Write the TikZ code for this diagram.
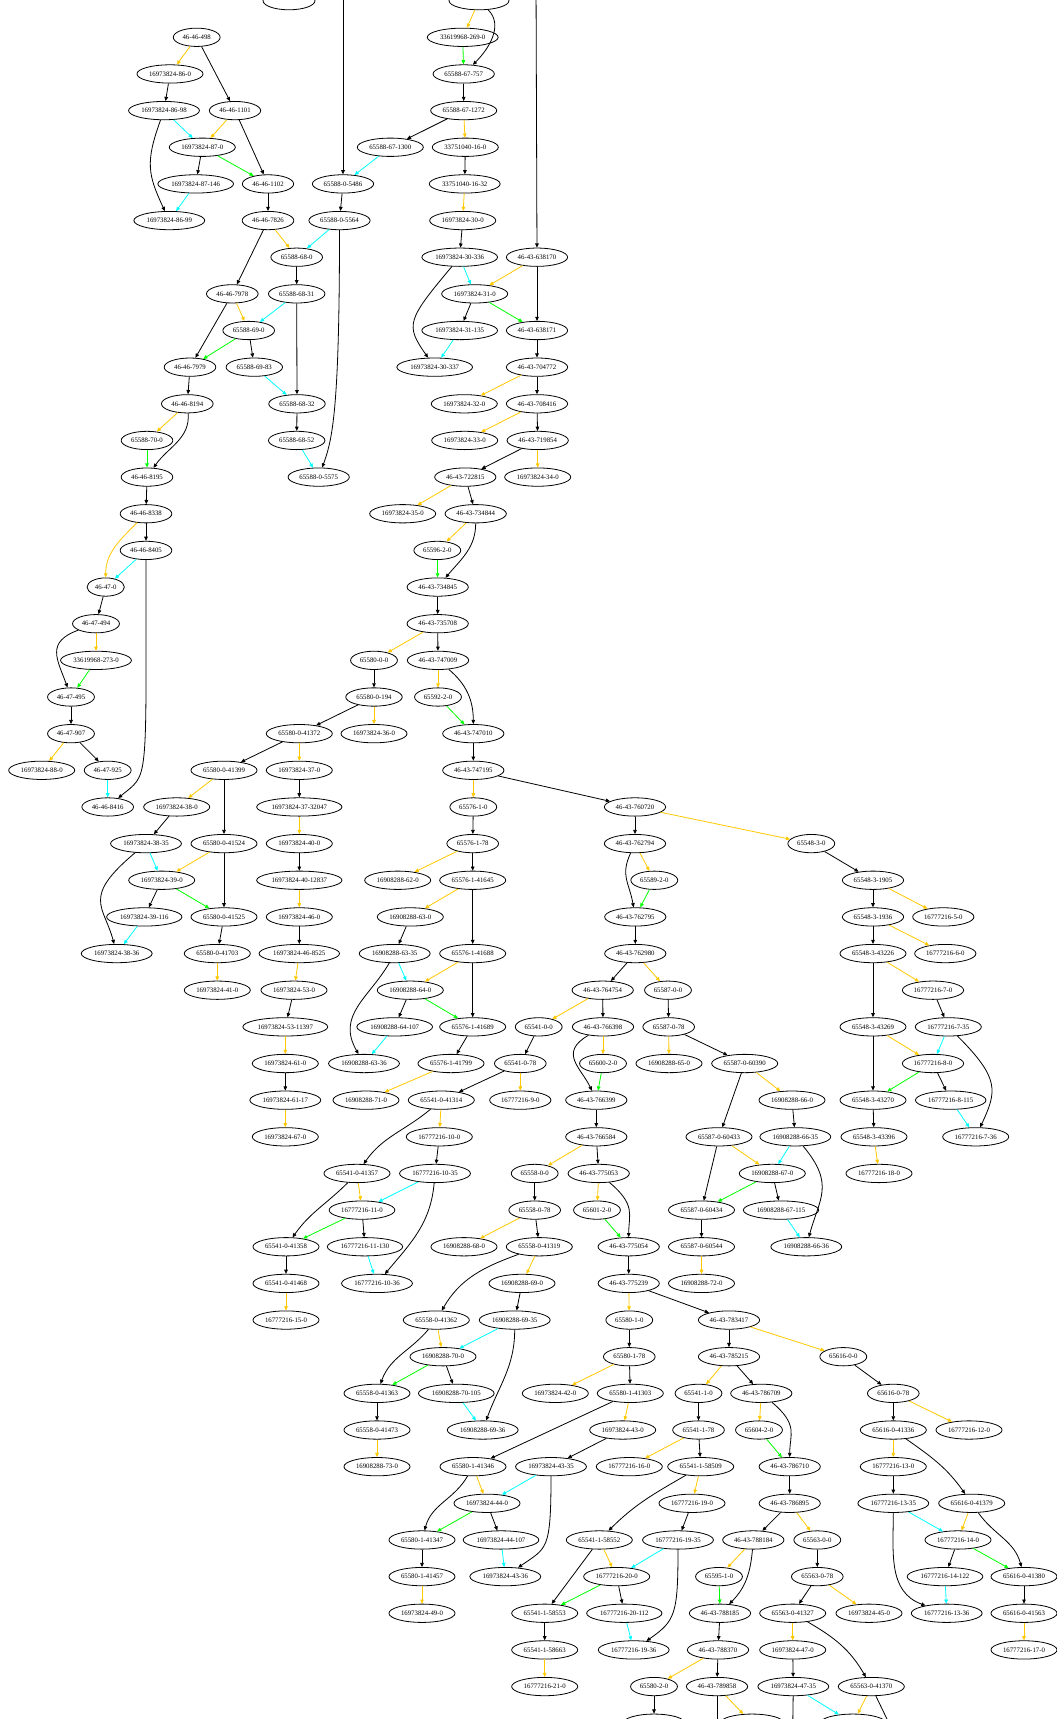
\documentclass[tikz,border=0pt]{standalone}
\usepackage{fontspec}
\setmainfont{Liberation Serif}
\usetikzlibrary{arrows.meta,shapes.geometric}
\definecolor{depGold}{HTML}{FFC800}
\definecolor{depCyan}{HTML}{00FFFF}
\definecolor{depGreen}{HTML}{00FF00}
\tikzset{
  elip/.style={draw=black, line width=0.8pt, ellipse, inner xsep=2.4pt, inner ysep=0pt, minimum height=18.3pt, font=\fontsize{6.8}{8}\selectfont},
  elipcut/.style={elip, minimum width=#1},
  dep/.style={-{Triangle[length=4.2pt,width=3.6pt]}, line width=0.8pt, draw=#1},
  dep/.default=black,
}

\begin{document}
\begin{tikzpicture}[x=1pt, y=-36.65pt]
\useasboundingbox (0pt,0.65pt) rectangle (1057pt,-1718.35pt);
\node[elipcut=52pt] (cutTopL) at (289,0) {};
\node[elipcut=60pt] (cutTopR) at (479,0) {};
\coordinate (offTopA) at (343,-0.6);
\coordinate (offTopB) at (536,-0.6);
\node[elip] (46-46-498) at (196.7,1) {46-46-498};
\node[elip] (33619968-269-0) at (462.7,1) {33619968-269-0};
\node[elip] (16973824-86-0) at (170,2) {16973824-86-0};
\node[elip] (65588-67-757) at (463.7,2) {65588-67-757};
\node[elip] (16973824-86-98) at (164,3) {16973824-86-98};
\node[elip] (46-46-1101) at (235,3) {46-46-1101};
\node[elip] (65588-67-1272) at (463.7,3) {65588-67-1272};
\node[elip] (16973824-87-0) at (202.3,4) {16973824-87-0};
\node[elip] (65588-67-1300) at (390.3,4) {65588-67-1300};
\node[elip] (33751040-16-0) at (465.3,4) {33751040-16-0};
\node[elip] (16973824-87-146) at (195.7,5) {16973824-87-146};
\node[elip] (46-46-1102) at (268,5) {46-46-1102};
\node[elip] (65588-0-5486) at (343,5) {65588-0-5486};
\node[elip] (33751040-16-32) at (464.7,5) {33751040-16-32};
\node[elip] (16973824-86-99) at (169.3,6) {16973824-86-99};
\node[elip] (46-46-7826) at (268,6) {46-46-7826};
\node[elip] (65588-0-5564) at (339.5,6) {65588-0-5564};
\node[elip] (16973824-30-0) at (462.7,6) {16973824-30-0};
\node[elip] (65588-68-0) at (296.7,7) {65588-68-0};
\node[elip] (16973824-30-336) at (459.7,7) {16973824-30-336};
\node[elip] (46-43-638170) at (537,7) {46-43-638170};
\node[elip] (46-46-7978) at (232.3,8) {46-46-7978};
\node[elip] (65588-68-31) at (296.7,8) {65588-68-31};
\node[elip] (16973824-31-0) at (474.7,8) {16973824-31-0};
\node[elip] (65588-69-0) at (248.7,9) {65588-69-0};
\node[elip] (16973824-31-135) at (459.7,9) {16973824-31-135};
\node[elip] (46-43-638171) at (537,9) {46-43-638171};
\node[elip] (46-46-7979) at (190,10) {46-46-7979};
\node[elip] (65588-69-83) at (254.3,10) {65588-69-83};
\node[elip] (16973824-30-337) at (434.7,10) {16973824-30-337};
\node[elip] (46-43-704772) at (537,10) {46-43-704772};
\node[elip] (46-46-8194) at (187.3,11) {46-46-8194};
\node[elip] (65588-68-32) at (297,11) {65588-68-32};
\node[elip] (16973824-32-0) at (464.3,11) {16973824-32-0};
\node[elip] (46-43-708416) at (537,11) {46-43-708416};
\node[elip] (65588-70-0) at (147,12) {65588-70-0};
\node[elip] (65588-68-52) at (296.7,12) {65588-68-52};
\node[elip] (16973824-33-0) at (464.7,12) {16973824-33-0};
\node[elip] (46-43-719854) at (537.7,12) {46-43-719854};
\node[elip] (46-46-8195) at (147,13) {46-46-8195};
\node[elip] (65588-0-5575) at (318.7,13) {65588-0-5575};
\node[elip] (46-43-722815) at (465.3,13) {46-43-722815};
\node[elip] (16973824-34-0) at (537.7,13) {16973824-34-0};
\node[elip] (46-46-8338) at (146,14) {46-46-8338};
\node[elip] (16973824-35-0) at (402.7,14) {16973824-35-0};
\node[elip] (46-43-734844) at (475.7,14) {46-43-734844};
\node[elip] (46-46-8405) at (146,15) {46-46-8405};
\node[elip] (65596-2-0) at (437.3,15) {65596-2-0};
\node[elip] (46-47-0) at (105.7,16) {46-47-0};
\node[elip] (46-43-734845) at (437.7,16) {46-43-734845};
\node[elip] (46-47-494) at (96,17) {46-47-494};
\node[elip] (46-43-735708) at (437.7,17) {46-43-735708};
\node[elip] (33619968-273-0) at (96,18) {33619968-273-0};
\node[elip] (65580-0-0) at (374,18) {65580-0-0};
\node[elip] (46-43-747009) at (438,18) {46-43-747009};
\node[elip] (46-47-495) at (71,19) {46-47-495};
\node[elip] (65580-0-194) at (374,19) {65580-0-194};
\node[elip] (65592-2-0) at (438,19) {65592-2-0};
\node[elip] (46-47-907) at (71,20) {46-47-907};
\node[elip] (65580-0-41372) at (299.3,20) {65580-0-41372};
\node[elip] (16973824-36-0) at (374,20) {16973824-36-0};
\node[elip] (46-43-747010) at (473.3,20) {46-43-747010};
\node[elip] (16973824-88-0) at (41.7,21) {16973824-88-0};
\node[elip] (46-47-925) at (107.7,21) {46-47-925};
\node[elip] (65580-0-41399) at (224,21) {65580-0-41399};
\node[elip] (16973824-37-0) at (299.3,21) {16973824-37-0};
\node[elip] (46-43-747195) at (473.3,21) {46-43-747195};
\node[elip] (46-46-8416) at (107.7,22) {46-46-8416};
\node[elip] (16973824-38-0) at (176.7,22) {16973824-38-0};
\node[elip] (16973824-37-32047) at (299.3,22) {16973824-37-32047};
\node[elip] (65576-1-0) at (473.3,22) {65576-1-0};
\node[elip] (46-43-760720) at (635,22) {46-43-760720};
\node[elip] (16973824-38-35) at (146,23) {16973824-38-35};
\node[elip] (65580-0-41524) at (224,23) {65580-0-41524};
\node[elip] (16973824-40-0) at (299.3,23) {16973824-40-0};
\node[elip] (65576-1-78) at (472.7,23) {65576-1-78};
\node[elip] (46-43-762794) at (635,23) {46-43-762794};
\node[elip] (65548-3-0) at (811.3,23) {65548-3-0};
\node[elip] (16973824-39-0) at (161.7,24) {16973824-39-0};
\node[elip] (16973824-40-12837) at (299.3,24) {16973824-40-12837};
\node[elip] (16908288-62-0) at (397.7,24) {16908288-62-0};
\node[elip] (65576-1-41645) at (472.7,24) {65576-1-41645};
\node[elip] (65589-2-0) at (654.3,24) {65589-2-0};
\node[elip] (65548-3-1905) at (873,24) {65548-3-1905};
\node[elip] (16973824-39-116) at (144.3,25) {16973824-39-116};
\node[elip] (65580-0-41525) at (224,25) {65580-0-41525};
\node[elip] (16973824-46-0) at (299.3,25) {16973824-46-0};
\node[elip] (16908288-63-0) at (410.3,25) {16908288-63-0};
\node[elip] (46-43-762795) at (635.3,25) {46-43-762795};
\node[elip] (65548-3-1936) at (873,25) {65548-3-1936};
\node[elip] (16777216-5-0) at (943.3,25) {16777216-5-0};
\node[elip] (16973824-38-36) at (116.7,26) {16973824-38-36};
\node[elip] (65580-0-41703) at (217.3,26) {65580-0-41703};
\node[elip] (16973824-46-8525) at (299.3,26) {16973824-46-8525};
\node[elip] (16908288-63-35) at (394.7,26) {16908288-63-35};
\node[elip] (65576-1-41688) at (472.7,26) {65576-1-41688};
\node[elip] (46-43-762980) at (635.3,26) {46-43-762980};
\node[elip] (65548-3-43226) at (873,26) {65548-3-43226};
\node[elip] (16777216-6-0) at (945.3,26) {16777216-6-0};
\node[elip] (16973824-41-0) at (217.3,27) {16973824-41-0};
\node[elip] (16973824-53-0) at (294,27) {16973824-53-0};
\node[elip] (16908288-64-0) at (410.3,27) {16908288-64-0};
\node[elip] (46-43-764754) at (602.7,27) {46-43-764754};
\node[elip] (65587-0-0) at (668,27) {65587-0-0};
\node[elip] (16777216-7-0) at (933,27) {16777216-7-0};
\node[elip] (16973824-53-11397) at (285.3,28) {16973824-53-11397};
\node[elip] (16908288-64-107) at (394.7,28) {16908288-64-107};
\node[elip] (65576-1-41689) at (472.7,28) {65576-1-41689};
\node[elip] (65541-0-0) at (538.7,28) {65541-0-0};
\node[elip] (46-43-766398) at (603,28) {46-43-766398};
\node[elip] (65587-0-78) at (668.7,28) {65587-0-78};
\node[elip] (65548-3-43269) at (873,28) {65548-3-43269};
\node[elip] (16777216-7-35) at (948.3,28) {16777216-7-35};
\node[elip] (16973824-61-0) at (285.3,29) {16973824-61-0};
\node[elip] (16908288-63-36) at (364,29) {16908288-63-36};
\node[elip] (65576-1-41799) at (451,29) {65576-1-41799};
\node[elip] (65541-0-78) at (520.3,29) {65541-0-78};
\node[elip] (65600-2-0) at (603,29) {65600-2-0};
\node[elip] (16908288-65-0) at (669,29) {16908288-65-0};
\node[elip] (65587-0-60390) at (744.7,29) {65587-0-60390};
\node[elip] (16777216-8-0) at (933,29) {16777216-8-0};
\node[elip] (16973824-61-17) at (285.3,30) {16973824-61-17};
\node[elip] (16908288-71-0) at (366,30) {16908288-71-0};
\node[elip] (65541-0-41314) at (441.3,30) {65541-0-41314};
\node[elip] (16777216-9-0) at (520.3,30) {16777216-9-0};
\node[elip] (46-43-766399) at (596.3,30) {46-43-766399};
\node[elip] (16908288-66-0) at (792,30) {16908288-66-0};
\node[elip] (65548-3-43270) at (873,30) {65548-3-43270};
\node[elip] (16777216-8-115) at (950.7,30) {16777216-8-115};
\node[elip] (16973824-67-0) at (285.3,31) {16973824-67-0};
\node[elip] (16777216-10-0) at (439.3,31) {16777216-10-0};
\node[elip] (46-43-766584) at (596.3,31) {46-43-766584};
\node[elip] (65587-0-60433) at (719,31) {65587-0-60433};
\node[elip] (16908288-66-35) at (795.3,31) {16908288-66-35};
\node[elip] (65548-3-43396) at (874,31) {65548-3-43396};
\node[elip] (16777216-7-36) at (975.7,31) {16777216-7-36};
\node[elip] (65541-0-41357) at (357,32) {65541-0-41357};
\node[elip] (16777216-10-35) at (435,32) {16777216-10-35};
\node[elip] (65558-0-0) at (534.7,32) {65558-0-0};
\node[elip] (46-43-775053) at (598.7,32) {46-43-775053};
\node[elip] (16908288-67-0) at (772.3,32) {16908288-67-0};
\node[elip] (16777216-18-0) at (879,32) {16777216-18-0};
\node[elip] (16777216-11-0) at (362,33) {16777216-11-0};
\node[elip] (65558-0-78) at (534.7,33) {65558-0-78};
\node[elip] (65601-2-0) at (597,33) {65601-2-0};
\node[elip] (65587-0-60434) at (701.5,33) {65587-0-60434};
\node[elip] (16908288-67-115) at (781,33) {16908288-67-115};
\node[elip] (65541-0-41358) at (286,34) {65541-0-41358};
\node[elip] (16777216-11-130) at (365,34) {16777216-11-130};
\node[elip] (16908288-68-0) at (464,34) {16908288-68-0};
\node[elip] (65558-0-41319) at (539.3,34) {65558-0-41319};
\node[elip] (46-43-775054) at (628.7,34) {46-43-775054};
\node[elip] (65587-0-60544) at (701.5,34) {65587-0-60544};
\node[elip] (16908288-66-36) at (806.3,34) {16908288-66-36};
\node[elip] (65541-0-41468) at (286,35) {65541-0-41468};
\node[elip] (16777216-10-36) at (377,35) {16777216-10-36};
\node[elip] (16908288-69-0) at (522,35) {16908288-69-0};
\node[elip] (46-43-775239) at (628.7,35) {46-43-775239};
\node[elip] (16908288-72-0) at (701.5,35) {16908288-72-0};
\node[elip] (16777216-15-0) at (286,36) {16777216-15-0};
\node[elip] (65558-0-41362) at (436.3,36) {65558-0-41362};
\node[elip] (16908288-69-35) at (514.7,36) {16908288-69-35};
\node[elip] (65580-1-0) at (629.3,36) {65580-1-0};
\node[elip] (46-43-783417) at (729,36) {46-43-783417};
\node[elip] (16908288-70-0) at (443,37) {16908288-70-0};
\node[elip] (65580-1-78) at (629.3,37) {65580-1-78};
\node[elip] (46-43-785215) at (729,37) {46-43-785215};
\node[elip] (65616-0-0) at (843.3,37) {65616-0-0};
\node[elip] (65558-0-41363) at (377,38) {65558-0-41363};
\node[elip] (16908288-70-105) at (456.3,38) {16908288-70-105};
\node[elip] (16973824-42-0) at (555.3,38) {16973824-42-0};
\node[elip] (65580-1-41303) at (630.3,38) {65580-1-41303};
\node[elip] (65541-1-0) at (698.5,38) {65541-1-0};
\node[elip] (46-43-786709) at (761.3,38) {46-43-786709};
\node[elip] (65616-0-78) at (893.3,38) {65616-0-78};
\node[elip] (65558-0-41473) at (377,39) {65558-0-41473};
\node[elip] (16908288-69-36) at (482.7,39) {16908288-69-36};
\node[elip] (16973824-43-0) at (622.7,39) {16973824-43-0};
\node[elip] (65541-1-78) at (698.5,39) {65541-1-78};
\node[elip] (65604-2-0) at (759,39) {65604-2-0};
\node[elip] (65616-0-41336) at (893.3,39) {65616-0-41336};
\node[elip] (16777216-12-0) at (969,39) {16777216-12-0};
\node[elip] (16908288-73-0) at (377,40) {16908288-73-0};
\node[elip] (65580-1-41346) at (473,40) {65580-1-41346};
\node[elip] (16973824-43-35) at (551,40) {16973824-43-35};
\node[elip] (16777216-16-0) at (629.3,40) {16777216-16-0};
\node[elip] (65541-1-58509) at (700.7,40) {65541-1-58509};
\node[elip] (46-43-786710) at (789.7,40) {46-43-786710};
\node[elip] (16777216-13-0) at (893.3,40) {16777216-13-0};
\node[elip] (16973824-44-0) at (487,41) {16973824-44-0};
\node[elip] (16777216-19-0) at (692,41) {16777216-19-0};
\node[elip] (46-43-786895) at (789.7,41) {46-43-786895};
\node[elip] (16777216-13-35) at (893.3,41) {16777216-13-35};
\node[elip] (65616-0-41379) at (971.7,41) {65616-0-41379};
\node[elip] (65580-1-41347) at (422,42) {65580-1-41347};
\node[elip] (16973824-44-107) at (501,42) {16973824-44-107};
\node[elip] (65541-1-58552) at (599.3,42) {65541-1-58552};
\node[elip] (16777216-19-35) at (678,42) {16777216-19-35};
\node[elip] (46-43-788184) at (753.3,42) {46-43-788184};
\node[elip] (65563-0-0) at (817.3,42) {65563-0-0};
\node[elip] (16777216-14-0) at (958,42) {16777216-14-0};
\node[elip] (65580-1-41457) at (422,43) {65580-1-41457};
\node[elip] (16973824-43-36) at (505.3,43) {16973824-43-36};
\node[elip] (16777216-20-0) at (616.7,43) {16777216-20-0};
\node[elip] (65595-1-0) at (719,43) {65595-1-0};
\node[elip] (65563-0-78) at (817.3,43) {65563-0-78};
\node[elip] (16777216-14-122) at (945,43) {16777216-14-122};
\node[elip] (65616-0-41380) at (1024,43) {65616-0-41380};
\node[elip] (16973824-49-0) at (422,44) {16973824-49-0};
\node[elip] (65541-1-58553) at (544.7,44) {65541-1-58553};
\node[elip] (16777216-20-112) at (624.3,44) {16777216-20-112};
\node[elip] (46-43-788185) at (720,44) {46-43-788185};
\node[elip] (65563-0-41327) at (792.7,44) {65563-0-41327};
\node[elip] (16973824-45-0) at (869,44) {16973824-45-0};
\node[elip] (16777216-13-36) at (946.7,44) {16777216-13-36};
\node[elip] (65616-0-41563) at (1024,44) {65616-0-41563};
\node[elip] (65541-1-58663) at (544.7,45) {65541-1-58663};
\node[elip] (16777216-19-36) at (633.7,45) {16777216-19-36};
\node[elip] (46-43-788370) at (718,45) {46-43-788370};
\node[elip] (16973824-47-0) at (792.7,45) {16973824-47-0};
\node[elip] (16777216-17-0) at (1024,45) {16777216-17-0};
\node[elip] (16777216-21-0) at (544.7,46) {16777216-21-0};
\node[elip] (65580-2-0) at (654,46) {65580-2-0};
\node[elip] (46-43-789858) at (717,46) {46-43-789858};
\node[elip] (16973824-47-35) at (793.3,46) {16973824-47-35};
\node[elip] (65563-0-41370) at (871.3,46) {65563-0-41370};
\node[elipcut=62pt] (cutBotA) at (654,47) {};
\node[elipcut=64pt] (cutBotB) at (752,47) {};
\node[elipcut=66pt] (cutBotC) at (853,47) {};
\coordinate (offBotA) at (717,48.5);
\coordinate (offBotB) at (792,48.5);
\coordinate (offBotC) at (912,48.3);

\draw[dep=depGold] (cutTopR) -- (33619968-269-0);
\draw[dep] (cutTopR) to[out=-45,in=45] (65588-67-757);
\draw[dep=depGreen] (33619968-269-0) -- (65588-67-757);
\draw[dep] (65588-67-757) -- (65588-67-1272);
\draw[dep] (65588-67-1272) -- (65588-67-1300);
\draw[dep=depGold] (65588-67-1272) -- (33751040-16-0);
\draw[dep=depCyan] (65588-67-1300) -- (65588-0-5486);
\draw[dep] (offTopA) -- (65588-0-5486);
\draw[dep] (65588-0-5486) -- (65588-0-5564);
\draw[dep=depCyan] (65588-0-5564) -- (65588-68-0);
\draw[dep] (65588-0-5564) to[out=-90,in=70,out distance=180pt,in distance=30pt] (65588-0-5575);
\draw[dep] (33751040-16-0) -- (33751040-16-32);
\draw[dep=depGold] (33751040-16-32) -- (16973824-30-0);
\draw[dep] (16973824-30-0) -- (16973824-30-336);
\draw[dep=depCyan] (16973824-30-336) -- (16973824-31-0);
\draw[dep] (16973824-30-336) to[out=-130,in=125,out distance=70pt,in distance=40pt] (16973824-30-337);
\draw[dep] (offTopB) -- (46-43-638170);
\draw[dep=depGold] (46-43-638170) -- (16973824-31-0);
\draw[dep] (46-43-638170) -- (46-43-638171);
\draw[dep] (16973824-31-0) -- (16973824-31-135);
\draw[dep=depGreen] (16973824-31-0) -- (46-43-638171);
\draw[dep=depCyan] (16973824-31-135) -- (16973824-30-337);
\draw[dep] (46-43-638171) -- (46-43-704772);
\draw[dep=depGold] (46-43-704772) -- (16973824-32-0);
\draw[dep] (46-43-704772) -- (46-43-708416);
\draw[dep=depGold] (46-43-708416) -- (16973824-33-0);
\draw[dep] (46-43-708416) -- (46-43-719854);
\draw[dep] (46-43-719854) -- (46-43-722815);
\draw[dep=depGold] (46-43-719854) -- (16973824-34-0);
\draw[dep=depGold] (46-43-722815) -- (16973824-35-0);
\draw[dep] (46-43-722815) -- (46-43-734844);
\draw[dep=depGold] (46-43-734844) -- (65596-2-0);
\draw[dep] (46-43-734844) to[out=-90,in=50] (46-43-734845);
\draw[dep=depGreen] (65596-2-0) -- (46-43-734845);
\draw[dep] (46-43-734845) -- (46-43-735708);
\draw[dep=depGold] (46-43-735708) -- (65580-0-0);
\draw[dep] (46-43-735708) -- (46-43-747009);
\draw[dep=depGold] (46-43-747009) -- (65592-2-0);
\draw[dep] (46-43-747009) to[out=-40,in=90] (46-43-747010);
\draw[dep=depGreen] (65592-2-0) -- (46-43-747010);
\draw[dep] (46-43-747010) -- (46-43-747195);
\draw[dep=depGold] (46-43-747195) -- (65576-1-0);
\draw[dep] (46-43-747195) -- (46-43-760720);
\draw[dep=depGold] (46-43-760720) -- (65548-3-0);
\draw[dep] (46-43-760720) -- (46-43-762794);
\draw[dep] (65580-0-0) -- (65580-0-194);
\draw[dep] (65580-0-194) -- (65580-0-41372);
\draw[dep=depGold] (65580-0-194) -- (16973824-36-0);
\draw[dep] (65580-0-41372) -- (65580-0-41399);
\draw[dep=depGold] (65580-0-41372) -- (16973824-37-0);
\draw[dep=depGold] (65580-0-41399) -- (16973824-38-0);
\draw[dep] (65580-0-41399) -- (65580-0-41524);
\draw[dep] (16973824-37-0) -- (16973824-37-32047);
\draw[dep=depGold] (16973824-37-32047) -- (16973824-40-0);
\draw[dep] (16973824-38-0) -- (16973824-38-35);
\draw[dep=depCyan] (16973824-38-35) -- (16973824-39-0);
\draw[dep] (16973824-38-35) to[out=-140,in=105,out distance=70pt,in distance=40pt] (16973824-38-36);
\draw[dep=depGold] (65580-0-41524) -- (16973824-39-0);
\draw[dep] (65580-0-41524) -- (65580-0-41525);
\draw[dep] (16973824-40-0) -- (16973824-40-12837);
\draw[dep] (16973824-39-0) -- (16973824-39-116);
\draw[dep=depGreen] (16973824-39-0) -- (65580-0-41525);
\draw[dep=depCyan] (16973824-39-116) -- (16973824-38-36);
\draw[dep=depGold] (16973824-40-12837) -- (16973824-46-0);
\draw[dep] (65580-0-41525) -- (65580-0-41703);
\draw[dep] (16973824-46-0) -- (16973824-46-8525);
\draw[dep=depGold] (65580-0-41703) -- (16973824-41-0);
\draw[dep=depGold] (16973824-46-8525) -- (16973824-53-0);
\draw[dep] (16973824-53-0) -- (16973824-53-11397);
\draw[dep=depGold] (16973824-53-11397) -- (16973824-61-0);
\draw[dep] (16973824-61-0) -- (16973824-61-17);
\draw[dep=depGold] (16973824-61-17) -- (16973824-67-0);
\draw[dep=depGold] (46-46-498) -- (16973824-86-0);
\draw[dep] (46-46-498) -- (46-46-1101);
\draw[dep] (16973824-86-0) -- (16973824-86-98);
\draw[dep=depCyan] (16973824-86-98) -- (16973824-87-0);
\draw[dep] (16973824-86-98) to[out=-110,in=115,out distance=45pt,in distance=40pt] (16973824-86-99);
\draw[dep=depGold] (46-46-1101) -- (16973824-87-0);
\draw[dep] (46-46-1101) -- (46-46-1102);
\draw[dep] (16973824-87-0) -- (16973824-87-146);
\draw[dep=depGreen] (16973824-87-0) -- (46-46-1102);
\draw[dep=depCyan] (16973824-87-146) -- (16973824-86-99);
\draw[dep] (46-46-1102) -- (46-46-7826);
\draw[dep=depGold] (46-46-7826) -- (65588-68-0);
\draw[dep] (46-46-7826) -- (46-46-7978);
\draw[dep] (65588-68-0) -- (65588-68-31);
\draw[dep=depGold] (46-46-7978) -- (65588-69-0);
\draw[dep] (46-46-7978) -- (46-46-7979);
\draw[dep=depCyan] (65588-68-31) -- (65588-69-0);
\draw[dep] (65588-68-31) -- (65588-68-32);
\draw[dep=depGreen] (65588-69-0) -- (46-46-7979);
\draw[dep] (65588-69-0) -- (65588-69-83);
\draw[dep=depCyan] (65588-69-83) -- (65588-68-32);
\draw[dep] (46-46-7979) -- (46-46-8194);
\draw[dep=depGold] (46-46-8194) -- (65588-70-0);
\draw[dep] (46-46-8194) to[out=-85,in=55] (46-46-8195);
\draw[dep] (65588-68-32) -- (65588-68-52);
\draw[dep=depCyan] (65588-68-52) -- (65588-0-5575);
\draw[dep=depGreen] (65588-70-0) -- (46-46-8195);
\draw[dep] (46-46-8195) -- (46-46-8338);
\draw[dep] (46-46-8338) -- (46-46-8405);
\draw[dep=depGold] (46-46-8338) to[out=-135,in=90] (46-47-0);
\draw[dep=depCyan] (46-46-8405) -- (46-47-0);
\draw[dep] (46-46-8405) to[out=-90,in=40,out distance=230pt,in distance=40pt] (46-46-8416);
\draw[dep] (46-47-0) -- (46-47-494);
\draw[dep=depGold] (46-47-494) -- (33619968-273-0);
\draw[dep] (46-47-494) to[out=-160,in=110,out distance=35pt,in distance=30pt] (46-47-495);
\draw[dep=depGreen] (33619968-273-0) -- (46-47-495);
\draw[dep] (46-47-495) -- (46-47-907);
\draw[dep=depGold] (46-47-907) -- (16973824-88-0);
\draw[dep] (46-47-907) -- (46-47-925);
\draw[dep=depCyan] (46-47-925) -- (46-46-8416);
\draw[dep] (65576-1-0) -- (65576-1-78);
\draw[dep=depGold] (65576-1-78) -- (16908288-62-0);
\draw[dep] (65576-1-78) -- (65576-1-41645);
\draw[dep=depGold] (46-43-762794) -- (65589-2-0);
\draw[dep] (46-43-762794) to[out=-115,in=100,out distance=25pt,in distance=25pt] (46-43-762795);
\draw[dep=depGreen] (65589-2-0) -- (46-43-762795);
\draw[dep] (65548-3-0) -- (65548-3-1905);
\draw[dep=depGold] (65576-1-41645) -- (16908288-63-0);
\draw[dep] (65576-1-41645) -- (65576-1-41688);
\draw[dep] (65548-3-1905) -- (65548-3-1936);
\draw[dep=depGold] (65548-3-1905) -- (16777216-5-0);
\draw[dep] (16908288-63-0) -- (16908288-63-35);
\draw[dep] (46-43-762795) -- (46-43-762980);
\draw[dep] (65548-3-1936) -- (65548-3-43226);
\draw[dep=depGold] (65548-3-1936) -- (16777216-6-0);
\draw[dep=depCyan] (16908288-63-35) -- (16908288-64-0);
\draw[dep] (16908288-63-35) to[out=-120,in=120,out distance=40pt,in distance=45pt] (16908288-63-36);
\draw[dep=depGold] (65576-1-41688) -- (16908288-64-0);
\draw[dep] (65576-1-41688) -- (65576-1-41689);
\draw[dep] (46-43-762980) -- (46-43-764754);
\draw[dep=depGold] (46-43-762980) -- (65587-0-0);
\draw[dep=depGold] (65548-3-43226) -- (16777216-7-0);
\draw[dep] (65548-3-43226) -- (65548-3-43269);
\draw[dep] (16908288-64-0) -- (16908288-64-107);
\draw[dep=depGreen] (16908288-64-0) -- (65576-1-41689);
\draw[dep=depGold] (46-43-764754) -- (65541-0-0);
\draw[dep] (46-43-764754) -- (46-43-766398);
\draw[dep] (65587-0-0) -- (65587-0-78);
\draw[dep] (16777216-7-0) -- (16777216-7-35);
\draw[dep=depCyan] (16908288-64-107) -- (16908288-63-36);
\draw[dep] (65576-1-41689) -- (65576-1-41799);
\draw[dep] (65541-0-0) -- (65541-0-78);
\draw[dep=depGold] (46-43-766398) -- (65600-2-0);
\draw[dep] (46-43-766398) to[out=-150,in=115,out distance=35pt,in distance=25pt] (46-43-766399);
\draw[dep=depGold] (65587-0-78) -- (16908288-65-0);
\draw[dep] (65587-0-78) -- (65587-0-60390);
\draw[dep=depGold] (65548-3-43269) -- (16777216-8-0);
\draw[dep] (65548-3-43269) -- (65548-3-43270);
\draw[dep=depCyan] (16777216-7-35) -- (16777216-8-0);
\draw[dep] (16777216-7-35) to[out=-45,in=65,out distance=60pt,in distance=40pt] (16777216-7-36);
\draw[dep=depGold] (65576-1-41799) -- (16908288-71-0);
\draw[dep] (65541-0-78) -- (65541-0-41314);
\draw[dep=depGold] (65541-0-78) -- (16777216-9-0);
\draw[dep=depGreen] (65600-2-0) -- (46-43-766399);
\draw[dep=depGold] (65587-0-60390) -- (16908288-66-0);
\draw[dep] (65587-0-60390) -- (65587-0-60433);
\draw[dep=depGreen] (16777216-8-0) -- (65548-3-43270);
\draw[dep] (16777216-8-0) -- (16777216-8-115);
\draw[dep] (65541-0-41314) to[out=-140,in=55] (65541-0-41357);
\draw[dep=depGold] (65541-0-41314) -- (16777216-10-0);
\draw[dep] (46-43-766399) -- (46-43-766584);
\draw[dep] (16908288-66-0) -- (16908288-66-35);
\draw[dep] (65548-3-43270) -- (65548-3-43396);
\draw[dep=depCyan] (16777216-8-115) -- (16777216-7-36);
\draw[dep] (16777216-10-0) -- (16777216-10-35);
\draw[dep=depGold] (46-43-766584) -- (65558-0-0);
\draw[dep] (46-43-766584) -- (46-43-775053);
\draw[dep=depGold] (65587-0-60433) -- (16908288-67-0);
\draw[dep] (65587-0-60433) -- (65587-0-60434);
\draw[dep=depCyan] (16908288-66-35) -- (16908288-67-0);
\draw[dep] (16908288-66-35) to[out=-50,in=75,out distance=50pt,in distance=40pt] (16908288-66-36);
\draw[dep=depGold] (65548-3-43396) -- (16777216-18-0);
\draw[dep=depGold] (65541-0-41357) -- (16777216-11-0);
\draw[dep] (65541-0-41357) to[out=-135,in=55] (65541-0-41358);
\draw[dep=depCyan] (16777216-10-35) -- (16777216-11-0);
\draw[dep] (16777216-10-35) to[out=-95,in=50] (16777216-10-36);
\draw[dep] (65558-0-0) -- (65558-0-78);
\draw[dep=depGold] (46-43-775053) -- (65601-2-0);
\draw[dep] (46-43-775053) to[out=-40,in=90,out distance=35pt] (46-43-775054);
\draw[dep=depGreen] (16908288-67-0) -- (65587-0-60434);
\draw[dep] (16908288-67-0) -- (16908288-67-115);
\draw[dep=depGreen] (16777216-11-0) -- (65541-0-41358);
\draw[dep] (16777216-11-0) -- (16777216-11-130);
\draw[dep=depGold] (65558-0-78) -- (16908288-68-0);
\draw[dep] (65558-0-78) -- (65558-0-41319);
\draw[dep=depGreen] (65601-2-0) -- (46-43-775054);
\draw[dep=depCyan] (16908288-67-115) -- (16908288-66-36);
\draw[dep] (65541-0-41358) -- (65541-0-41468);
\draw[dep=depCyan] (16777216-11-130) -- (16777216-10-36);
\draw[dep] (65558-0-41319) to[out=-160,in=60] (65558-0-41362);
\draw[dep=depGold] (65558-0-41319) -- (16908288-69-0);
\draw[dep] (46-43-775054) -- (46-43-775239);
\draw[dep] (65587-0-60434) -- (65587-0-60544);
\draw[dep=depGold] (65587-0-60544) -- (16908288-72-0);
\draw[dep=depGold] (65541-0-41468) -- (16777216-15-0);
\draw[dep] (16908288-69-0) -- (16908288-69-35);
\draw[dep=depGold] (46-43-775239) -- (65580-1-0);
\draw[dep] (46-43-775239) -- (46-43-783417);
\draw[dep=depGold] (65558-0-41362) -- (16908288-70-0);
\draw[dep] (65558-0-41362) to[out=-130,in=70] (65558-0-41363);
\draw[dep=depCyan] (16908288-69-35) -- (16908288-70-0);
\draw[dep] (16908288-69-35) to[out=-90,in=70] (16908288-69-36);
\draw[dep] (65580-1-0) -- (65580-1-78);
\draw[dep] (46-43-783417) -- (46-43-785215);
\draw[dep=depGold] (46-43-783417) -- (65616-0-0);
\draw[dep=depGreen] (16908288-70-0) -- (65558-0-41363);
\draw[dep] (16908288-70-0) -- (16908288-70-105);
\draw[dep=depGold] (65580-1-78) -- (16973824-42-0);
\draw[dep] (65580-1-78) -- (65580-1-41303);
\draw[dep=depGold] (46-43-785215) -- (65541-1-0);
\draw[dep] (46-43-785215) -- (46-43-786709);
\draw[dep] (65616-0-0) -- (65616-0-78);
\draw[dep] (65558-0-41363) -- (65558-0-41473);
\draw[dep=depCyan] (16908288-70-105) -- (16908288-69-36);
\draw[dep] (65580-1-41303) -- (65580-1-41346);
\draw[dep=depGold] (65580-1-41303) -- (16973824-43-0);
\draw[dep] (65541-1-0) -- (65541-1-78);
\draw[dep=depGold] (46-43-786709) -- (65604-2-0);
\draw[dep] (46-43-786709) to[out=-40,in=90,out distance=35pt] (46-43-786710);
\draw[dep] (65616-0-78) -- (65616-0-41336);
\draw[dep=depGold] (65616-0-78) -- (16777216-12-0);
\draw[dep=depGold] (65558-0-41473) -- (16908288-73-0);
\draw[dep] (16973824-43-0) -- (16973824-43-35);
\draw[dep=depGold] (65541-1-78) -- (16777216-16-0);
\draw[dep] (65541-1-78) -- (65541-1-58509);
\draw[dep=depGreen] (65604-2-0) -- (46-43-786710);
\draw[dep=depGold] (65616-0-41336) -- (16777216-13-0);
\draw[dep] (65616-0-41336) to[out=-35,in=125] (65616-0-41379);
\draw[dep=depGold] (65580-1-41346) -- (16973824-44-0);
\draw[dep] (65580-1-41346) to[out=-120,in=75] (65580-1-41347);
\draw[dep=depCyan] (16973824-43-35) -- (16973824-44-0);
\draw[dep] (16973824-43-35) to[out=-90,in=35,out distance=75pt,in distance=35pt] (16973824-43-36);
\draw[dep] (65541-1-58509) to[out=-150,in=45] (65541-1-58552);
\draw[dep=depGold] (65541-1-58509) -- (16777216-19-0);
\draw[dep] (46-43-786710) -- (46-43-786895);
\draw[dep] (16777216-13-0) -- (16777216-13-35);
\draw[dep=depGreen] (16973824-44-0) -- (65580-1-41347);
\draw[dep] (16973824-44-0) -- (16973824-44-107);
\draw[dep] (16777216-19-0) -- (16777216-19-35);
\draw[dep] (46-43-786895) -- (46-43-788184);
\draw[dep=depGold] (46-43-786895) -- (65563-0-0);
\draw[dep=depCyan] (16777216-13-35) -- (16777216-14-0);
\draw[dep] (16777216-13-35) to[out=-90,in=160,out distance=40pt,in distance=40pt] (16777216-13-36);
\draw[dep=depGold] (65616-0-41379) -- (16777216-14-0);
\draw[dep] (65616-0-41379) to[out=-55,in=105] (65616-0-41380);
\draw[dep] (65580-1-41347) -- (65580-1-41457);
\draw[dep=depCyan] (16973824-44-107) -- (16973824-43-36);
\draw[dep=depGold] (65541-1-58552) -- (16777216-20-0);
\draw[dep] (65541-1-58552) -- (65541-1-58553);
\draw[dep=depCyan] (16777216-19-35) -- (16777216-20-0);
\draw[dep] (16777216-19-35) to[out=-90,in=35,out distance=65pt,in distance=35pt] (16777216-19-36);
\draw[dep=depGold] (46-43-788184) -- (65595-1-0);
\draw[dep] (46-43-788184) to[out=-95,in=45] (46-43-788185);
\draw[dep] (65563-0-0) -- (65563-0-78);
\draw[dep] (16777216-14-0) -- (16777216-14-122);
\draw[dep=depGreen] (16777216-14-0) -- (65616-0-41380);
\draw[dep=depGold] (65580-1-41457) -- (16973824-49-0);
\draw[dep=depGreen] (16777216-20-0) -- (65541-1-58553);
\draw[dep] (16777216-20-0) -- (16777216-20-112);
\draw[dep=depGreen] (65595-1-0) -- (46-43-788185);
\draw[dep] (65563-0-78) -- (65563-0-41327);
\draw[dep=depGold] (65563-0-78) -- (16973824-45-0);
\draw[dep=depCyan] (16777216-14-122) -- (16777216-13-36);
\draw[dep] (65616-0-41380) -- (65616-0-41563);
\draw[dep] (65541-1-58553) -- (65541-1-58663);
\draw[dep=depCyan] (16777216-20-112) -- (16777216-19-36);
\draw[dep] (46-43-788185) -- (46-43-788370);
\draw[dep=depGold] (65563-0-41327) -- (16973824-47-0);
\draw[dep] (65563-0-41327) to[out=-30,in=120] (65563-0-41370);
\draw[dep=depGold] (65616-0-41563) -- (16777216-17-0);
\draw[dep=depGold] (65541-1-58663) -- (16777216-21-0);
\draw[dep=depGold] (46-43-788370) -- (65580-2-0);
\draw[dep] (46-43-788370) -- (46-43-789858);
\draw[dep] (16973824-47-0) -- (16973824-47-35);
\draw[dep] (65580-2-0) -- (cutBotA);
\draw[dep=depGold] (46-43-789858) -- (cutBotB);
\draw[dep] (46-43-789858) -- (offBotA);
\draw[dep=depCyan] (16973824-47-35) -- (cutBotC);
\draw[dep] (16973824-47-35) -- (offBotB);
\draw[dep=depGold] (65563-0-41370) -- (cutBotC);
\draw[dep] (65563-0-41370) -- (offBotC);
\end{tikzpicture}
\end{document}
